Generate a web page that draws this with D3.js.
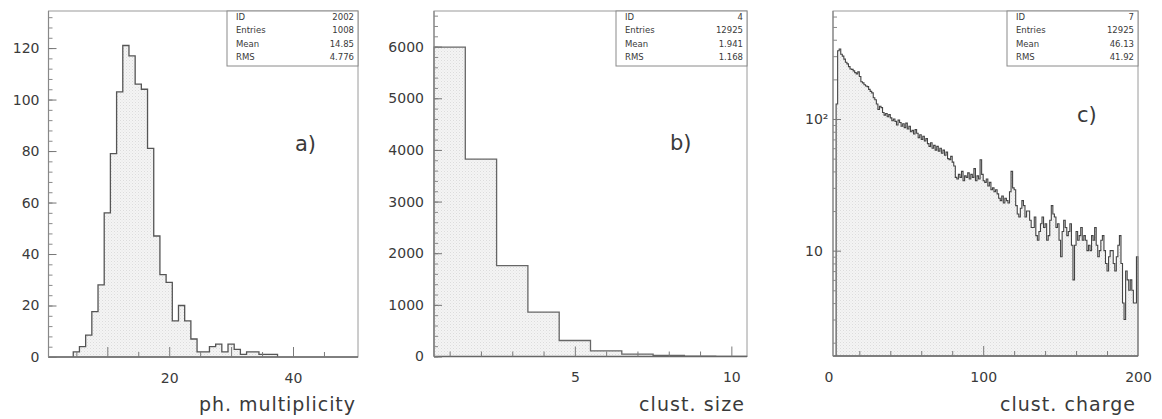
<!DOCTYPE html>
<html><head><meta charset="utf-8">
<script src="https://cdn.jsdelivr.net/npm/d3@7"></script>
<style>
body{margin:0;background:#fff}
svg{display:block}
text{font-family:"DejaVu Sans",sans-serif;fill:#3a3a3a}
</style>
</head><body>
<svg id="chart" width="1162" height="419"></svg>
<script>
// ---------- DATA ----------
// a) photon multiplicity (bin centres, counts)
const multBins   = [5,6,7,8,9,10,11,12,13,14,15,16,17,18,19,20,21,22,23,24,25,26,27,28,29,30,31,32,33,34,35,36,37];
const multCounts = [2,4,8.5,17.6,28,56,79,103,121,117,106,104,81,47,32,29,14,20,14,7,2,2,4,5,2,5,3,1,2,2,1,1,1];
const multYTicks = [0,20,40,60,80,100,120];
const multXTickLabels = [20,40];
const multStats = ["2002","1008","14.85","4.776"];

// b) cluster size
const sizeBins   = [1,2,3,4,5,6,7,8,9,10];
const sizeCounts = [5990,3820,1760,860,310,110,45,20,7,3];
const sizeYTicks = [0,1000,2000,3000,4000,5000,6000];
const sizeXTickLabels = [5,10];
const sizeStats = ["4","12925","1.941","1.168"];

// c) cluster charge (unit-width bins starting at chargeFirstBin)
const chargeFirstBin = 5;
const chargeCounts = [
 130,330,340,310,300,285,270,262,250,240,
 238,232,225,220,228,210,192,188,182,178,
 176,168,162,158,145,140,130,118,125,122,
 112,107,110,104,108,102,97,100,96,90,
 98,94,88,92,86,93,84,88,80,82,
 77,83,78,72,76,70,74,68,71,65,
 62,66,60,63,58,62,57,60,55,58,
 53,56,50,49,52,47,44,36,35,38,
 36,40,34,37,36,39,35,38,36,42,
 34,37,35,49,38,34,33,35,31,33,
 29,30,28,29,27,25,24,26,23,25,
 24,23,28,40,30,29,22,19,18,21,
 24,22,18,20,20,17,15,15,18,13,
 12,14,16,18,15,16,12,13,17,22,
 19,18,15,16,12,9,14,17,15,13,
 14,16,11,6,11,14,12,13,15,12,
 13,12,10,11,10,13,12,15,11,9,
 10,12,13,10,8,7,9,10,10,8,
 7,9,11,13,8,4,3,7,6,5,
 6,5,4,4,9];
const chargeXTickLabels = [0,100,200];
const chargeStats = ["7","12925","46.13","41.92"];

const statLabels = ["ID","Entries","Mean","RMS"];
const axisTitles = ["ph. multiplicity","clust. size","clust. charge"];
const panelTags  = ["a)","b)","c)"];

// ---------- DRAW ----------
const svg = d3.select("#chart");
const defs = svg.append("defs");
const pat = defs.append("pattern").attr("id","stip").attr("width",3).attr("height",3).attr("patternUnits","userSpaceOnUse");
pat.append("rect").attr("width",3).attr("height",3).attr("fill","#f4f4f4");
pat.append("rect").attr("width",1).attr("height",1).attr("fill","#dcdcdc");
pat.append("rect").attr("x",1.5).attr("y",1.5).attr("width",1).attr("height",1).attr("fill","#e6e6e6");

function panel(cfg){
  const g = svg.append("g");
  const {l,r,t,b} = cfg.frame;
  const x = d3.scaleLinear().domain(cfg.xDomain).range([l,r]);
  const y = (cfg.log ? d3.scaleLog() : d3.scaleLinear()).domain(cfg.yDomain).range([b,t]);
  const base = b;
  const pts = [];
  cfg.bins.forEach((bn,i)=>{
    const v = cfg.counts[i];
    pts.push({x:bn.lo, v:v});
    pts.push({x:bn.hi, v:v});
  });
  const yv = v => (cfg.log ? (v>0? y(v): base) : y(v));
  const area = d3.area().x(d=>x(d.x)).y0(base).y1(d=>yv(d.v));
  g.append("path").datum(pts).attr("d",area).attr("fill","url(#stip)");
  const full = [{x:cfg.bins[0].lo, base:true}].concat(pts).concat([{x:cfg.bins[cfg.bins.length-1].hi, base:true}]);
  const line = d3.line().x(d=>x(d.x)).y(d=>d.base?base:yv(d.v));
  g.append("path").datum(full).attr("d",line).attr("fill","none")
    .attr("stroke",cfg.lineColor).attr("stroke-width",cfg.lineWidth).attr("stroke-linejoin","miter");

  // frame
  g.append("rect").attr("x",l).attr("y",t).attr("width",r-l).attr("height",b-t)
    .attr("fill","none").attr("stroke","#9a9a9a").attr("stroke-width",1);
  g.append("line").attr("x1",l).attr("x2",r).attr("y1",b).attr("y2",b).attr("stroke","#666").attr("stroke-width",1.6);
  g.append("line").attr("x1",l).attr("x2",l).attr("y1",t).attr("y2",b).attr("stroke","#888").attr("stroke-width",1.2);

  // y axis
  const ya = g.append("g").attr("transform",`translate(${l},0)`)
    .call(d3.axisLeft(y).tickValues(cfg.yMinor).tickSize(-4).tickFormat(""));
  ya.select(".domain").remove();
  ya.selectAll("line").attr("stroke","#8a8a8a");
  const yb = g.append("g").attr("transform",`translate(${l},0)`)
    .call(d3.axisLeft(y).tickValues(cfg.yMajor).tickSize(-8).tickPadding(cfg.yPad).tickFormat(cfg.yFormat));
  yb.select(".domain").remove();
  yb.selectAll("line").attr("stroke","#777");
  yb.selectAll("text").attr("font-size",14).attr("fill","#3a3a3a").attr("font-family","DejaVu Sans")
    .attr("text-anchor",cfg.yAnchor||"end");
  if(cfg.yAnchor==="start") yb.selectAll("text").attr("x", cfg.yStartX - l);

  // x axis
  const xa = g.append("g").attr("transform",`translate(0,${b})`)
    .call(d3.axisBottom(x).tickValues(cfg.xMinor).tickSize(-5).tickFormat(""));
  xa.select(".domain").remove();
  xa.selectAll("line").attr("stroke","#7a7a7a");
  const xm = g.append("g").attr("transform",`translate(0,${b})`)
    .call(d3.axisBottom(x).tickValues(cfg.xMajor).tickSize(-10).tickFormat(""));
  xm.select(".domain").remove();
  xm.selectAll("line").attr("stroke","#7a7a7a");
  const xb = g.append("g").attr("transform",`translate(0,${b})`)
    .call(d3.axisBottom(x).tickValues(cfg.xLabels).tickSize(0).tickPadding(16).tickFormat(d3.format("d")));
  xb.select(".domain").remove();
  xb.selectAll("text").attr("font-size",14).attr("fill","#3a3a3a").attr("font-family","DejaVu Sans");

  // axis title
  g.append("text").attr("x",r-3).attr("y",411).attr("text-anchor","end")
    .attr("font-size",19).attr("textLength",cfg.titleLen).attr("lengthAdjust","spacing").text(cfg.title);

  // tag
  g.append("text").attr("x",cfg.tag[0]).attr("y",cfg.tag[1]).attr("font-size",21).text(cfg.tagText);

  // stats box
  const bw = 131, bx = r-bw, by = t, bh = 55;
  g.append("rect").attr("x",bx).attr("y",by).attr("width",bw).attr("height",bh)
    .attr("fill","#fff").attr("stroke","#8a8a8a").attr("stroke-width",1);
  statLabels.forEach((lab,i)=>{
    const yy = by + 9 + i*13.3;
    g.append("text").attr("x",bx+9).attr("y",yy).attr("font-size",8.5).attr("fill","#555").text(lab);
    g.append("text").attr("x",r-4).attr("y",yy).attr("text-anchor","end").attr("font-size",8.5).attr("fill","#555").text(cfg.stats[i]);
  });
}

// panel a
panel({
  frame:{l:48.5,r:358,t:11,b:357},
  xDomain:[0.5,50.5], yDomain:[0,134.4],
  bins: multBins.map(c=>({lo:c-0.5,hi:c+0.5})), counts: multCounts,
  yMajor: multYTicks, yMinor: d3.range(0,134,4), yFormat:d3.format("d"), yPad:9,
  xMinor: [5,15,25,35,45], xMajor:[10,20,30,40], xLabels: multXTickLabels,
  lineColor:"#555", lineWidth:1.3,
  title: axisTitles[0], titleLen:156,
  tag:[295,151], tagText: panelTags[0], stats: multStats
});
// panel b
panel({
  frame:{l:434,r:747,t:11,b:356.5},
  xDomain:[0.5,10.5], yDomain:[0,6690],
  bins: sizeBins.map(c=>({lo:c-0.5,hi:c+0.5})), counts: sizeCounts,
  yMajor: sizeYTicks, yMinor: d3.range(0,6690,200), yFormat:d3.format("d"), yPad:10,
  xMinor: [1,2,3,4,6,7,8,9], xMajor:[5,10], xLabels: sizeXTickLabels,
  lineColor:"#666", lineWidth:1.3,
  title: axisTitles[1], titleLen:105,
  tag:[670,150], tagText: panelTags[1], stats: sizeStats
});
// panel c
const cMinor = [];
[1,10,100].forEach(dec=>{ for(let k=2;k<=9;k++){ const v=k*dec; if(v>1.585 && v<661) cMinor.push(v);} });
panel({
  frame:{l:833,r:1138,t:11,b:356},
  xDomain:[3,200], yDomain:[1.585,661], log:true,
  bins: chargeCounts.map((c,i)=>({lo:chargeFirstBin+i,hi:chargeFirstBin+i+1})), counts: chargeCounts,
  yMajor: [10,100], yMinor: cMinor,
  yFormat: d=> d===100 ? "10\u00B2" : "10", yPad:10, yAnchor:"start", yStartX:805,
  xMinor: [20,40,60,80,120,140,160,180], xMajor:[100], xLabels: chargeXTickLabels,
  lineColor:"#444", lineWidth:1.1,
  title: axisTitles[2], titleLen:135,
  tag:[1077,122], tagText: panelTags[2], stats: chargeStats
});
</script>
</body></html>
